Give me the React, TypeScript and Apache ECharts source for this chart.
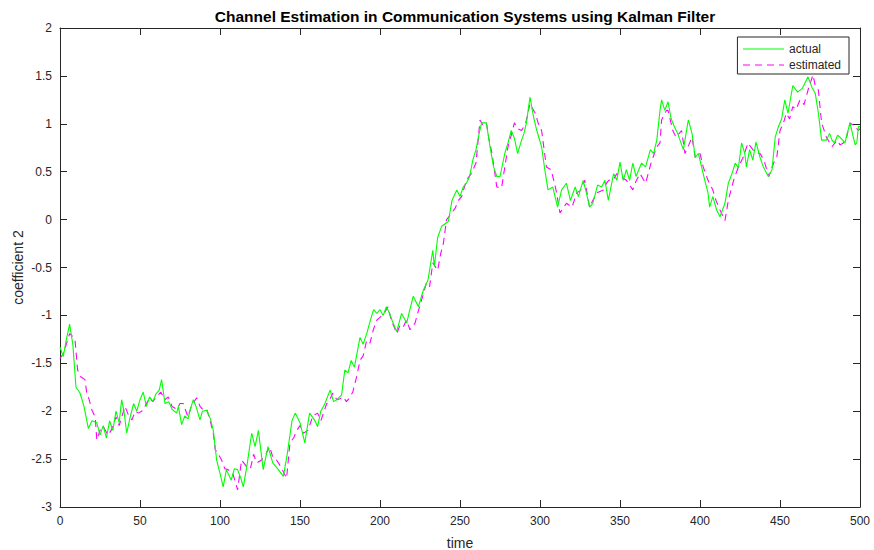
import React, { useEffect, useRef } from "react";
import * as echarts from "echarts";

const actualT = [0,2,4,6,8,10,12.5,15,17.7,20,23,25,27,29,31,33,35,37,38.5,40,41.7,44,46,48,50,52,54,56,58,60,62,63.5,65.6,68,70,72.9,74,76,78,80,82,83.3,85,87.5,89,91.7,94,95.8,97.9,100,102,104,107,109,111,113,114.6,117,119.8,121.9,124,127,130,133,136,139.6,142,145,147,150,153,156,159,161,163,165.6,168.8,171,173,176,178,180,182,184,187.5,189.5,191.7,194,196,198,200,202,204,206,207.5,210.4,213.5,216.7,218.5,220.8,224,227,230,233,234,236,238.5,242.7,245,248,250,252,254,256,258,260,262,263.5,266.5,268.75,271,273,275,278,280,282,284,286,288.5,290,291.5,293.75,296,298,301,303,305,308,311,313.5,316.5,319,322,324,327,329,331,333,336,338.5,340.6,342.7,346,348,350,352,354,356,358,360,363.5,366,369,371,373,375,376,378,380,382,384,386,387.5,389.6,392.7,395,397,399,401,403,405,406,408,410.4,412.5,415.6,417.7,420,422,424,426,428,429,431,433,435,437.5,439.6,442.7,445,447,449,451,453,455,458,461,464,467.5,470,472,474,476,479,481,482.5,484,486,487.5,490.6,492,493.75,495.8,497,498,499,500];
const actualV = [-1.33,-1.43,-1.25,-1.09,-1.3,-1.75,-1.81,-1.95,-2.18,-2.1,-2.12,-2.25,-2.15,-2.28,-2.1,-2.2,-2.0,-2.12,-1.88,-2.0,-2.23,-2.05,-1.92,-2.0,-1.88,-1.8,-1.95,-1.85,-1.9,-1.82,-1.78,-1.67,-1.92,-1.9,-1.98,-2.02,-1.95,-2.14,-2.05,-2.08,-1.95,-1.88,-1.95,-2.09,-2.0,-1.99,-2.08,-2.2,-2.51,-2.65,-2.79,-2.61,-2.72,-2.6,-2.61,-2.7,-2.79,-2.55,-2.23,-2.37,-2.2,-2.61,-2.37,-2.54,-2.6,-2.68,-2.45,-2.1,-2.02,-2.12,-2.33,-2.02,-2.09,-2.16,-2.0,-1.92,-1.78,-1.9,-1.88,-1.83,-1.57,-1.6,-1.47,-1.54,-1.23,-1.3,-1.19,-1.05,-0.94,-0.98,-0.94,-1.0,-0.91,-0.98,-1.05,-1.17,-0.98,-1.08,-0.95,-0.8,-0.91,-0.74,-0.63,-0.32,-0.49,-0.19,-0.07,-0.02,0.2,0.31,0.24,0.34,0.38,0.45,0.62,0.73,0.9,1.01,1.01,0.76,0.55,0.45,0.45,0.69,0.8,0.93,0.85,0.69,0.83,0.9,1.01,1.28,1.07,0.93,0.76,0.52,0.31,0.34,0.13,0.31,0.38,0.2,0.34,0.24,0.41,0.28,0.13,0.17,0.36,0.34,0.41,0.2,0.48,0.41,0.6,0.41,0.52,0.41,0.59,0.45,0.59,0.55,0.73,0.69,0.83,1.14,1.25,1.14,1.23,1.05,0.97,0.9,0.83,0.73,1.04,0.9,0.65,0.69,0.55,0.41,0.28,0.13,0.24,0.1,0.03,0.17,0.38,0.48,0.59,0.54,0.8,0.69,0.55,0.73,0.62,0.81,0.65,0.55,0.45,0.52,0.86,0.97,1.05,1.25,1.11,1.4,1.33,1.37,1.49,1.38,1.32,1.11,0.83,0.83,0.9,0.83,0.8,0.88,0.86,0.8,0.9,1.01,0.86,0.78,0.8,0.97,0.97];

const estT = [0,2,4,6,8,9.4,11,13,15.6,16.7,17.7,20,22,23,25,27,30,32,35,37,40.6,43,45,47,49,52,54,56,58,60.4,63,65.6,67.7,70,73,75,77,80,82,85.4,87.5,89.6,91.7,93.75,95.8,97,99,101,103,105,108,111,113.5,116.7,119,121,123,126,129,131,133,135,138,141.6,143.75,146,148,150,152,155,158,161,163,166.7,168,170.6,173,175,177,179,181,183,185.4,187.5,189.5,191.7,193.75,195.8,198,200,202.5,205,207,210.6,212.5,214.6,216.5,218.75,221.9,224,226,229,231,233,236,238,239.6,241.6,244,247,249,251,254,257,260,262.5,264.5,266.5,268,270,273,276,278,280,282,284,286,288.5,291,293.75,297,299,301,304,307,310,312.5,316.5,320,323,325,328,331,333,335.6,339.6,341.5,343,346,348,351,354,358,360,362.5,366,369.4,373,375,376,379,380,383,385,388.5,390.6,393,395,397,400,402,405,408,410,412.5,415.6,417.7,421,424,427,430,433,435,437.5,440,443,446,448,450,452,454,456,458,460,462.5,465,467.5,470.6,472,474,476,479,482.5,485.6,487.5,489.6,491.5,493.75,497,499,500];
const estV = [-1.45,-1.4,-1.3,-1.19,-1.22,-1.26,-1.57,-1.64,-1.67,-1.81,-1.85,-1.99,-2.06,-2.3,-2.2,-2.16,-2.25,-2.2,-2.06,-2.15,-1.95,-2.05,-2.09,-2.0,-2.02,-1.99,-1.92,-1.86,-1.9,-1.85,-1.8,-1.88,-1.85,-1.95,-1.98,-1.92,-1.92,-2.06,-1.95,-1.86,-1.95,-1.99,-1.98,-2.09,-2.23,-2.4,-2.45,-2.51,-2.6,-2.61,-2.65,-2.82,-2.51,-2.58,-2.6,-2.45,-2.54,-2.51,-2.44,-2.37,-2.48,-2.5,-2.58,-2.7,-2.33,-2.28,-2.2,-2.15,-2.23,-2.2,-2.05,-2.02,-2.1,-1.92,-1.9,-1.81,-1.88,-1.87,-1.85,-1.9,-1.86,-1.8,-1.64,-1.47,-1.42,-1.26,-1.29,-1.15,-1.05,-1.02,-0.98,-0.91,-1.05,-1.19,-1.1,-1.12,-1.05,-1.15,-1.08,-0.95,-0.84,-0.66,-0.7,-0.45,-0.53,-0.35,-0.25,0.0,0.05,0.12,0.2,0.24,0.41,0.48,0.59,1.04,0.98,1.01,0.85,0.69,0.34,0.33,0.55,0.76,0.88,1.01,0.95,0.93,1.0,1.21,1.11,1.0,0.93,0.55,0.52,0.31,0.07,0.17,0.13,0.28,0.3,0.41,0.13,0.2,0.28,0.31,0.38,0.41,0.42,0.48,0.44,0.41,0.31,0.4,0.48,0.38,0.59,0.76,0.8,1.04,1.14,1.14,0.93,0.86,0.93,0.69,0.78,0.86,0.65,0.69,0.55,0.41,0.31,0.2,0.1,-0.01,0.2,0.41,0.55,0.65,0.8,0.73,0.7,0.69,0.62,0.45,0.59,0.65,0.93,1.0,1.11,1.05,1.18,1.15,1.25,1.2,1.35,1.51,1.4,1.35,1.01,0.86,0.76,0.83,0.78,0.8,0.85,1.01,0.97,0.93,0.95];

const seriesNames = ["actual", "estimated"];
const titleText = "Channel Estimation in Communication Systems using Kalman Filter";

export default function App() {
  const ref = useRef<HTMLDivElement>(null);
  useEffect(() => {
    if (!ref.current) return;
    const chart = echarts.init(ref.current, null, { renderer: "svg" });
    const font = "Liberation Sans, Arial, Helvetica, sans-serif";
    const axisColor = "#262626";
    const pair = (t: number[], v: number[]) => t.map((x, i) => [x, v[i]]);
    chart.setOption({
      animation: false,
      backgroundColor: "#ffffff",
      title: {
        text: titleText,
        left: 460,
        textAlign: "center",
        top: 3,
        textStyle: { fontFamily: font, fontSize: 15.5, fontWeight: "bold", color: "#000" },
      },
      legend: {
        right: 25,
        top: 37,
        orient: "vertical",
        itemWidth: 41,
        itemHeight: 12,
        itemGap: 4,
        padding: [6, 8, 3, 5],
        borderColor: "#262626",
        borderWidth: 1,
        backgroundColor: "#fff",
        borderRadius: 0,
        itemStyle: { opacity: 0 },
        lineStyle: { width: 1.1 },
        textStyle: { fontFamily: font, fontSize: 12, color: "#262626" },
        data: seriesNames,
      },
      grid: {
        left: 60,
        right: 14,
        top: 28,
        bottom: 43,
        containLabel: false,
        outerBoundsMode: "none",
      },
      xAxis: [
        {
          type: "value",
          min: 0,
          max: 500,
          interval: 50,
          name: "time",
          nameLocation: "middle",
          nameGap: 29,
          nameMoveOverlap: false,
          nameTextStyle: { fontFamily: font, fontSize: 14, color: axisColor },
          axisLine: { show: true, onZero: false, lineStyle: { color: axisColor, width: 1 } },
          axisTick: { show: true, inside: true, length: 7, lineStyle: { color: axisColor } },
          axisLabel: { fontFamily: font, fontSize: 12, color: axisColor, margin: 8 },
          splitLine: { show: false },
        },
        {
          type: "value",
          position: "top",
          min: 0,
          max: 500,
          interval: 50,
          axisLine: { show: true, onZero: false, lineStyle: { color: axisColor, width: 1 } },
          axisTick: { show: true, inside: true, length: 7, lineStyle: { color: axisColor } },
          axisLabel: { show: false },
          splitLine: { show: false },
        },
      ],
      yAxis: [
        {
          type: "value",
          min: -3,
          max: 2,
          interval: 0.5,
          name: "coefficient 2",
          nameLocation: "middle",
          nameGap: 35,
          nameMoveOverlap: false,
          nameRotate: 90,
          nameTextStyle: { fontFamily: font, fontSize: 14, color: axisColor },
          axisLine: { show: true, onZero: false, lineStyle: { color: axisColor, width: 1 } },
          axisTick: { show: true, inside: true, length: 7, lineStyle: { color: axisColor } },
          axisLabel: { fontFamily: font, fontSize: 12, color: axisColor, margin: 8 },
          splitLine: { show: false },
        },
        {
          type: "value",
          position: "right",
          min: -3,
          max: 2,
          interval: 0.5,
          axisLine: { show: true, onZero: false, lineStyle: { color: axisColor, width: 1 } },
          axisTick: { show: true, inside: true, length: 7, lineStyle: { color: axisColor } },
          axisLabel: { show: false },
          splitLine: { show: false },
        },
      ],
      series: [
        {
          name: seriesNames[0],
          type: "line",
          xAxisIndex: 0,
          yAxisIndex: 0,
          data: pair(actualT, actualV),
          symbol: "none",
          lineStyle: { color: "#00ff00", width: 1.1 },
          itemStyle: { color: "#00ff00" },
          z: 3,
        },
        {
          name: seriesNames[1],
          type: "line",
          xAxisIndex: 0,
          yAxisIndex: 0,
          data: pair(estT, estV),
          symbol: "none",
          lineStyle: { color: "#ff00ff", width: 1.1, type: [7, 5] },
          itemStyle: { color: "#ff00ff" },
          z: 2,
        },
      ],
    });
    return () => chart.dispose();
  }, []);
  return (
    <div
      ref={ref}
      style={{ position: "fixed", left: 0, top: 0, width: 874, height: 550, background: "#fff" }}
    />
  );
}
